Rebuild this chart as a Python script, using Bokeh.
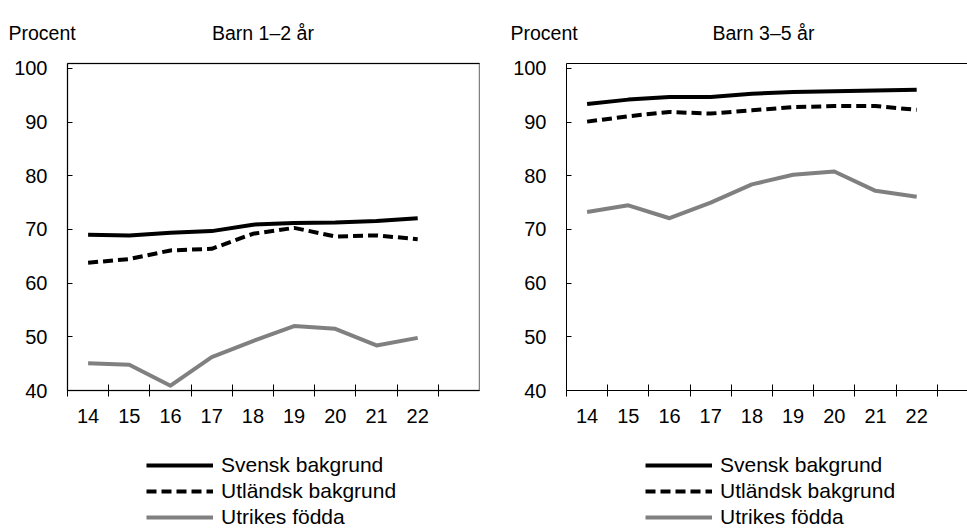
from bokeh.plotting import figure
from bokeh.models import Range1d, FixedTicker, LinearAxis, Legend, LegendItem
from bokeh.layouts import row, column
from bokeh.core.properties import value
from bokeh.embed import file_html
from bokeh.resources import INLINE

# ---- data ----
years = [14, 15, 16, 17, 18, 19, 20, 21, 22]
year_labels = ["14", "15", "16", "17", "18", "19", "20", "21", "22"]
y_ticks = [40, 50, 60, 70, 80, 90, 100]
series_names = ["Svensk bakgrund", "Utländsk bakgrund", "Utrikes födda"]
panel_titles = ["Barn 1–2 år", "Barn 3–5 år"]
unit_label = "Procent"

small_svensk = [69.0, 68.9, 69.4, 69.7, 70.9, 71.2, 71.3, 71.6, 72.1]
small_utlandsk = [63.8, 64.5, 66.1, 66.4, 69.2, 70.3, 68.7, 68.9, 68.2]
small_utrikes = [45.1, 44.8, 40.9, 46.2, 49.2, 52.0, 51.5, 48.4, 49.8]

big_svensk = [93.4, 94.2, 94.7, 94.7, 95.3, 95.6, 95.75, 95.9, 96.05]
big_utlandsk = [90.1, 91.1, 91.9, 91.6, 92.2, 92.8, 93.0, 93.0, 92.3]
big_utrikes = [73.25, 74.5, 72.1, 75.0, 78.4, 80.2, 80.8, 77.2, 76.1]

# ---- style / layout ----
FONT = "Liberation Sans"
SLOT = 41.2          # px per category
TOTAL_W = 967
HEAD_H = 45          # title strip height
CHART_TOP = 18
FRAME_H = 327
CHART_BOTTOM = 45
CHART_H = CHART_TOP + FRAME_H + CHART_BOTTOM
LEG_H = 530 - HEAD_H - CHART_H
Y0, Y1 = 40, 100.93

STYLES = [dict(line_color="black", line_width=4, line_join="round"),
          dict(line_color="black", line_width=4, line_dash="10 5", line_join="round"),
          dict(line_color="#808080", line_width=4, line_join="round")]


def strip(height):
    s = figure(width=TOTAL_W, height=height, output_backend="svg", toolbar_location=None,
               x_range=Range1d(0, TOTAL_W), y_range=Range1d(height, 0),
               x_axis_type=None, y_axis_type=None, min_border=0,
               outline_line_color=None, border_fill_color="white",
               background_fill_color="white")
    s.xgrid.visible = False
    s.ygrid.visible = False
    return s


# title strip
head = strip(HEAD_H)
head_x = [8, 211.5, 510, 712]
head_y = [32, 32, 32, 32]
head_text = [unit_label, panel_titles[0], unit_label, panel_titles[1]]
head.text(x=head_x, y=head_y, text=head_text, text_font=value(FONT),
          text_font_size="19.5px", text_color="black", text_baseline="alphabetic",
          text_align="left")


def make_panel(svensk, utl, utr, width, left, right, outline):
    frame_w = width - left - right
    x0 = years[0] - 0.5
    x1 = x0 + frame_w / SLOT
    p = figure(width=width, height=CHART_H, output_backend="svg", toolbar_location=None,
               x_range=Range1d(x0, x1), y_range=Range1d(Y0, Y1),
               min_border_left=left, min_border_right=right,
               min_border_top=CHART_TOP, min_border_bottom=CHART_BOTTOM,
               background_fill_color="white", border_fill_color="white")
    p.xgrid.visible = False
    p.ygrid.visible = False
    p.outline_line_color = outline
    p.outline_line_width = 1.5

    xa = p.xaxis[0]
    xa.ticker = FixedTicker(ticks=years,
                            minor_ticks=[y - 0.5 for y in years] + [years[-1] + 0.5])
    xa.major_label_overrides = {y: l for y, l in zip(years, year_labels)}
    xa.major_tick_line_color = None
    xa.major_tick_in = 0
    xa.major_tick_out = 0
    xa.minor_tick_line_color = "black"
    xa.minor_tick_in = 6
    xa.minor_tick_out = 6
    xa.axis_line_color = "black"
    xa.major_label_standoff = 12
    xa.major_label_text_font = FONT
    xa.major_label_text_font_size = "20px"
    xa.major_label_text_color = "black"

    ya = p.yaxis[0]
    ya.ticker = FixedTicker(ticks=y_ticks)
    ya.major_tick_in = 5
    ya.major_tick_out = 0
    ya.major_tick_line_color = "black"
    ya.minor_tick_line_color = None
    ya.axis_line_color = "black"
    ya.major_label_standoff = 20
    ya.major_label_text_font = FONT
    ya.major_label_text_font_size = "20px"
    ya.major_label_text_color = "black"

    top = LinearAxis(ticker=FixedTicker(ticks=[]), axis_line_color="black",
                     major_tick_line_color=None, minor_tick_line_color=None,
                     major_tick_in=0, major_tick_out=0, minor_tick_in=0, minor_tick_out=0,
                     major_label_standoff=0, major_label_text_font_size="0px")
    p.add_layout(top, "above")

    for ys, st in zip([svensk, utl, utr], STYLES):
        p.line(years, ys, **st)
    return p


p1 = make_panel(small_svensk, small_utlandsk, small_utrikes, 480, 67, 1, "#808080")
p2 = make_panel(big_svensk, big_utlandsk, big_utrikes, 487, 86, 0, None)

# legend strip: legend keys share the line styles (NaN data, nothing drawn in the strip)
leg = strip(LEG_H)
nan = float("nan")
keys = [leg.line(x=[nan], y=[nan], **st) for st in STYLES]
legend_x = [146, 645]
for lx in legend_x:
    lg = Legend(items=[LegendItem(label=n, renderers=[r]) for n, r in zip(series_names, keys)],
                location=(lx, 1), glyph_width=67, glyph_height=20,
                label_height=20, label_standoff=8, spacing=2, padding=0, margin=0,
                border_line_color=None, background_fill_alpha=0,
                label_text_font=FONT, label_text_font_size="21px",
                label_text_color="black")
    leg.add_layout(lg)

layout = column(head, row(p1, p2), leg)
open("out.html", "w").write(file_html(layout, INLINE))
